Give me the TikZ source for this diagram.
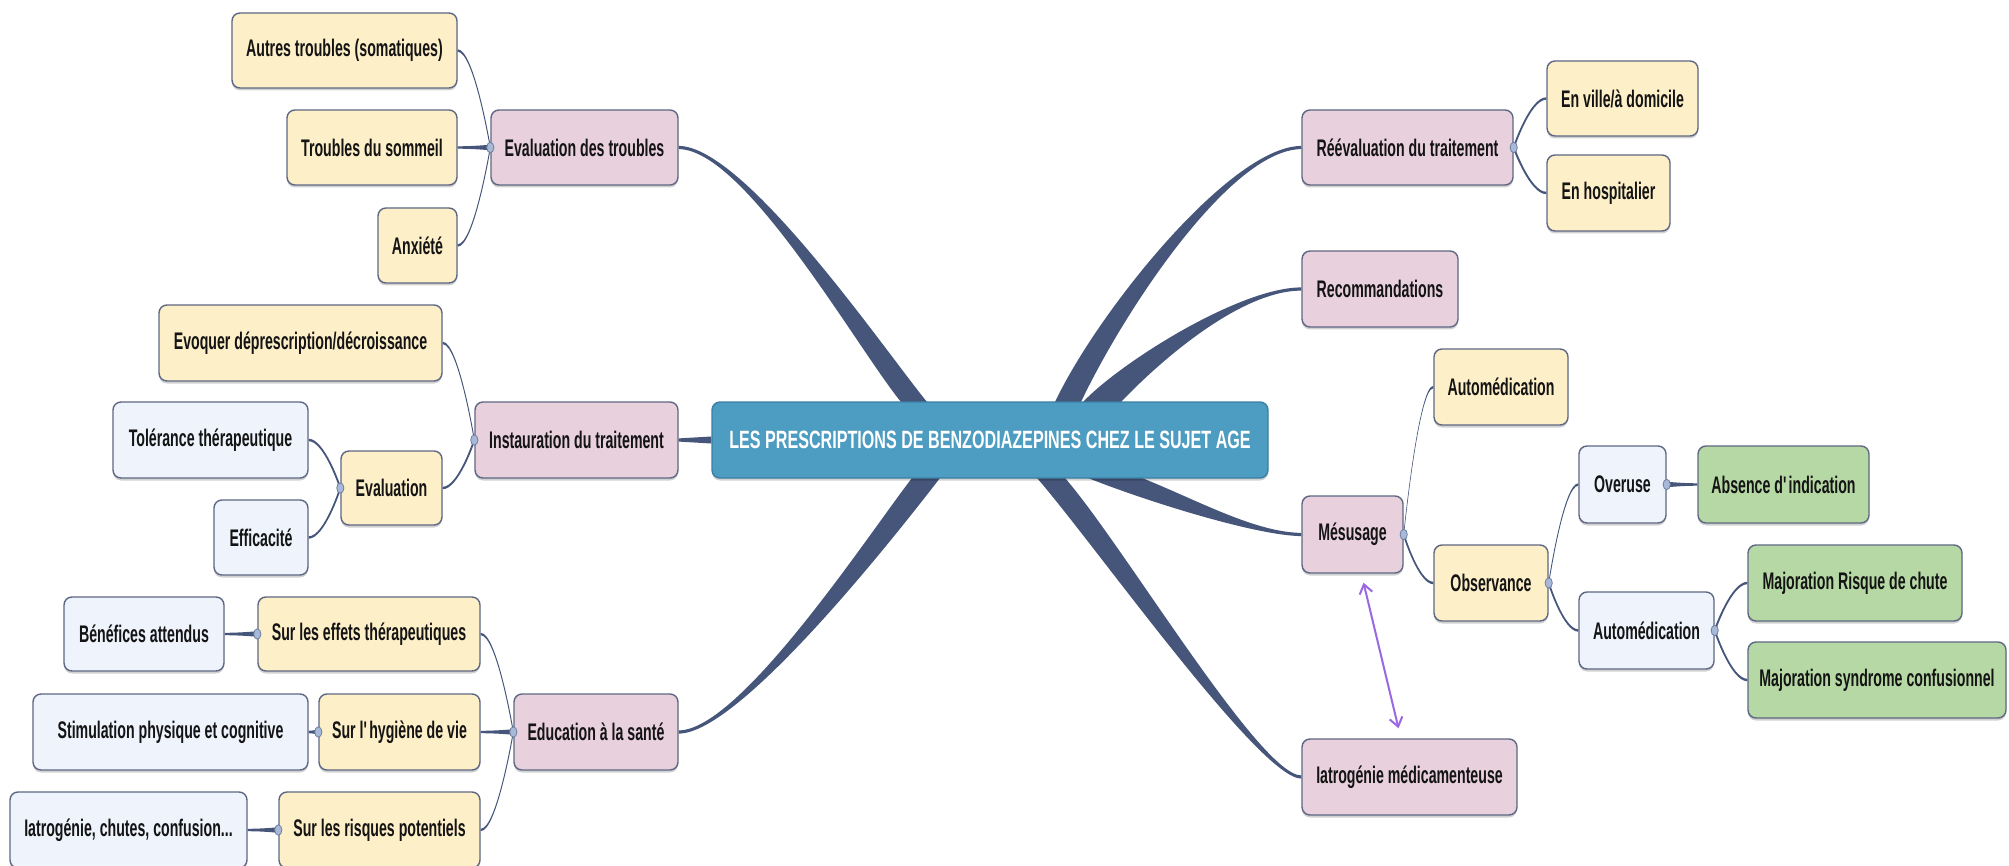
\documentclass[tikz,border=0pt]{standalone}
\usepackage{fontspec}
\setmainfont{Liberation Sans}[FakeStretch=0.645]
\newfontfamily\leaffont{Liberation Sans}[FakeStretch=0.59]
\usetikzlibrary{calc,arrows.meta,shadows,backgrounds}

\definecolor{rosefill}{HTML}{E8D0DD}
\definecolor{creamfill}{HTML}{FDEFC8}
\definecolor{icefill}{HTML}{EEF3FC}
\definecolor{sagefill}{HTML}{B6D8A4}
\definecolor{rootfill}{HTML}{4D9CC1}
\definecolor{rootline}{HTML}{3C7FA4}
\definecolor{boxline}{HTML}{5E6884}
\definecolor{branchcol}{HTML}{46567A}
\definecolor{knobfill}{HTML}{A7B8D8}
\definecolor{knobline}{HTML}{6F7FA0}
\definecolor{arrowviolet}{HTML}{9A68E2}
\definecolor{textdark}{HTML}{141414}

% box placed by its corners (x1,y1) (x2,y2), y measured downwards
\newcommand\putbox[7]{%
  \node[#2, minimum width={(#5-#3)*1pt}, minimum height={(#6-#4)*1pt}]
    (#1) at ({(#3+#5)/2},{(#4+#6)/2}) {#7};}

% thick tapered branch from a child anchor to a point on the root box edge
\newcommand\mainlink[6]{%
  \fill[branch] ($#1+(0,#5)$) .. controls ($#2+(0,#5)$) and ($#3+(#6,0)$) ..
    ($#4+(#6,0)$) -- ($#4+({-1*(#6)},0)$) .. controls ($#3+({-1*(#6)},0)$) and ($#2+(0,-#5)$) ..
    ($#1+(0,-#5)$) -- cycle;}

% thin tapered twig from a parent knob to a child anchor
\newcommand\sublink[2]{%
  \coordinate (sD) at (#1);
  \coordinate (sA) at (#2);
  \coordinate (sM) at ($(sA)!0.5!(sD)$);
  \fill[branch] ($(sA)+(0,-1.2)$) .. controls ($(sM|-sA)+(0,-1.2)$) and ($(sD)+(0,-2.8)$) ..
    ($(sD)+(0,-2.8)$) -- ($(sD)+(0,2.8)$) .. controls ($(sD)+(0,2.8)$) and ($(sM|-sA)+(0,1.2)$) ..
    ($(sA)+(0,1.2)$) -- cycle;}

\newcommand\knob[1]{\filldraw[knobstyle] (#1) ellipse [x radius=3.6pt, y radius=5.2pt];}

\begin{document}
\begin{tikzpicture}[x=1pt,y=-1pt,
  box/.style={draw=boxline, line width=1.4pt, rounded corners=8pt, inner sep=0pt,
    font=\leaffont\bfseries\fontsize{24}{28}\selectfont, text=textdark,
    drop shadow={shadow xshift=0pt, shadow yshift=-2.5pt, opacity=0.18, fill=black}},
  rosebox/.style={box, fill=rosefill},
  creambox/.style={box, fill=creamfill},
  icebox/.style={box, fill=icefill},
  sagebox/.style={box, fill=sagefill},
  rootbox/.style={box, fill=rootfill, draw=rootline, text=white,
    font=\rmfamily\bfseries\fontsize{25}{29}\selectfont},
  branch/.style={fill=branchcol},
  knobstyle/.style={fill=knobfill, draw=knobline, line width=0.8pt},
  linkarrow/.style={draw=arrowviolet, line width=2pt,
    arrows={Straight Barb[length=9pt,width=13pt]-Straight Barb[length=9pt,width=13pt]}}]

\useasboundingbox (0,0) rectangle (2009,866);

% root
\putbox{ctr}{rootbox}{712}{402}{1268}{478}{LES PRESCRIPTIONS DE BENZODIAZEPINES CHEZ LE SUJET AGE}

% left branches
\putbox{evt}{rosebox}{491}{110}{678}{185}{Evaluation des troubles}
\putbox{ats}{creambox}{232}{13}{457}{88}{Autres troubles (somatiques)}
\putbox{tds}{creambox}{287}{110}{457}{185}{Troubles du sommeil}
\putbox{anx}{creambox}{378}{208}{457}{283}{Anxiété}

\putbox{ins}{rosebox}{475}{402}{678}{478}{Instauration du traitement}
\putbox{evo}{creambox}{159}{305}{442}{381}{Evoquer déprescription/décroissance}
\putbox{eva}{creambox}{341}{451}{442}{525}{Evaluation}
\putbox{tol}{icebox}{113}{402}{308}{478}{Tolérance thérapeutique}
\putbox{eff}{icebox}{214}{500}{308}{575}{Efficacité}

\putbox{edu}{rosebox}{514}{694}{678}{770}{Education à la santé}
\putbox{sef}{creambox}{258}{597}{480}{671}{Sur les effets thérapeutiques}
\putbox{ben}{icebox}{64}{597}{224}{671}{Bénéfices attendus}
\putbox{shv}{creambox}{319}{694}{480}{770}{Sur l\textquotesingle hygiène de vie}
\putbox{stim}{icebox}{33}{694}{308}{770}{Stimulation physique et cognitive}
\putbox{srp}{creambox}{279}{792}{480}{868}{Sur les risques potentiels}
\putbox{iat}{icebox}{10}{792}{247}{868}{Iatrogénie, chutes, confusion...}

% right branches
\putbox{ree}{rosebox}{1302}{110}{1513}{185}{Réévaluation du traitement}
\putbox{env}{creambox}{1547}{61}{1698}{136}{En ville/à domicile}
\putbox{enh}{creambox}{1547}{155}{1670}{231}{En hospitalier}
\putbox{rec}{rosebox}{1302}{251}{1458}{327}{Recommandations}

\putbox{mes}{rosebox}{1302}{496}{1403}{573}{Mésusage}
\putbox{autA}{creambox}{1434}{349}{1568}{425}{Automédication}
\putbox{obs}{creambox}{1434}{545}{1548}{621}{Observance}
\putbox{ovr}{icebox}{1579}{446}{1666}{523}{Overuse}
\putbox{abs}{sagebox}{1698}{446}{1869}{523}{Absence d\textquotesingle indication}
\putbox{autB}{icebox}{1579}{592}{1714}{669}{Automédication}
\putbox{mrc}{sagebox}{1748}{545}{1962}{621}{Majoration Risque de chute}
\putbox{msc}{sagebox}{1748}{642}{2006}{718}{Majoration syndrome confusionnel}

\putbox{iam}{rosebox}{1302}{739}{1517}{815}{Iatrogénie médicamenteuse}

% root ends of the main branches
\coordinate (bEvt) at (914,402);
\coordinate (bEdu) at (926,478);
\coordinate (bRee) at (1068,402);
\coordinate (bRec) at (1102,402);
\coordinate (bMes) at (1115,478);
\coordinate (bIam) at (1051,478);

\begin{scope}[on background layer]
  \fill[white] (0,0) rectangle (2009,866);
  \mainlink{(evt.east)}{(745,148)}{(870,348)}{(bEvt)}{1.6}{-13}
  \mainlink{(edu.east)}{(740,732)}{(882,535)}{(bEdu)}{1.6}{14}
  \mainlink{(ree.west)}{(1230,148)}{(1110,313)}{(bRee)}{1.6}{13}
  \mainlink{(rec.west)}{(1240,289)}{(1140,362)}{(bRec)}{1.6}{19}
  \mainlink{(mes.west)}{(1255,534)}{(1170,500)}{(bMes)}{1.6}{-27}
  \mainlink{(iam.west)}{(1260,777)}{(1110,546)}{(bIam)}{1.6}{-14}
  \fill[branch] ($(ins.east)+(0,-1.6)$) -- ($(ctr.west)+(0,-3.5)$)
    -- ($(ctr.west)+(0,3.5)$) -- ($(ins.east)+(0,1.6)$) -- cycle;

  \sublink{evt.west}{ats.east}
  \sublink{evt.west}{tds.east}
  \sublink{evt.west}{anx.east}
  \sublink{ins.west}{evo.east}
  \sublink{ins.west}{eva.east}
  \sublink{eva.west}{tol.east}
  \sublink{eva.west}{eff.east}
  \sublink{edu.west}{sef.east}
  \sublink{edu.west}{shv.east}
  \sublink{edu.west}{srp.east}
  \sublink{sef.west}{ben.east}
  \sublink{shv.west}{stim.east}
  \sublink{srp.west}{iat.east}
  \sublink{ree.east}{env.west}
  \sublink{ree.east}{enh.west}
  \sublink{mes.east}{autA.west}
  \sublink{mes.east}{obs.west}
  \sublink{obs.east}{ovr.west}
  \sublink{obs.east}{autB.west}
  \sublink{ovr.east}{abs.west}
  \sublink{autB.east}{mrc.west}
  \sublink{autB.east}{msc.west}
\end{scope}

% knobs where twigs leave a parent
\knob{evt.west}
\knob{ins.west}
\knob{eva.west}
\knob{edu.west}
\knob{sef.west}
\knob{shv.west}
\knob{srp.west}
\knob{ree.east}
\knob{mes.east}
\knob{obs.east}
\knob{ovr.east}
\knob{autB.east}

% two-way link between misuse and iatrogenic harm
\coordinate (arTop) at ($(mes.south)+(11,9)$);
\coordinate (arBot) at ($(iam.north)+(-11,-10)$);
\draw[linkarrow] (arTop) -- (arBot);

\end{tikzpicture}
\end{document}
